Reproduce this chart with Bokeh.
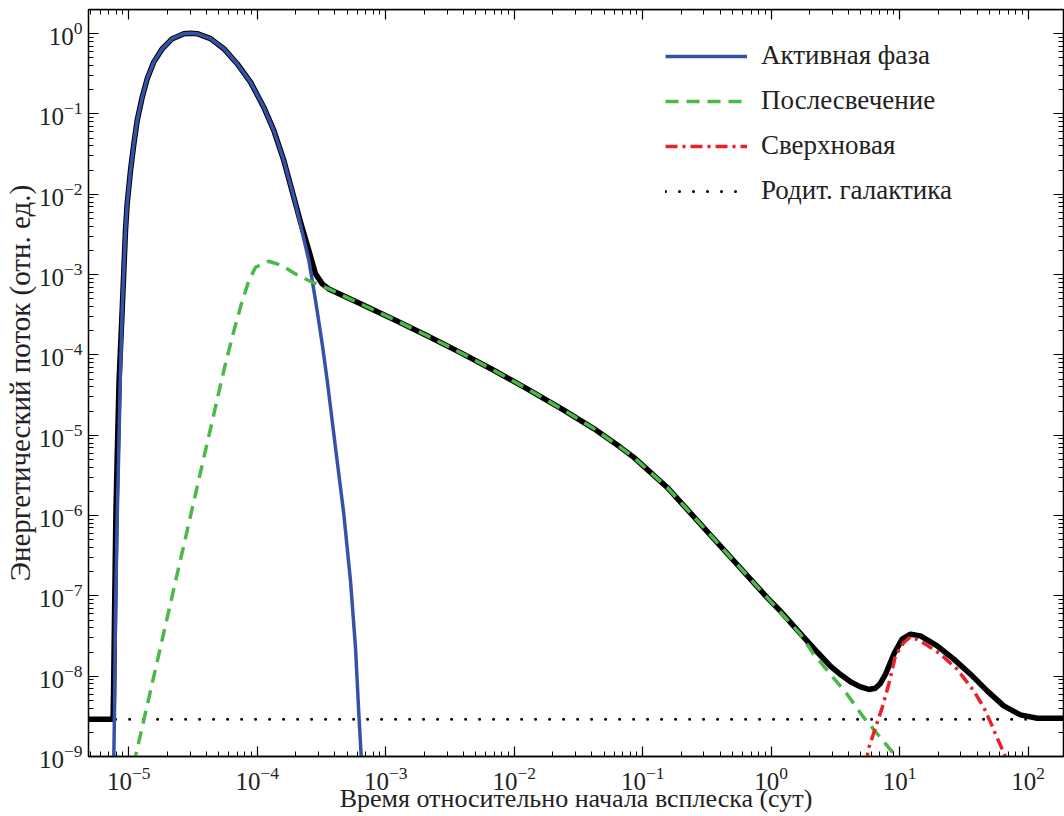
import numpy as np
from bokeh.plotting import figure
from bokeh.models import (Range1d, LogAxis, FixedTicker, Legend, LegendItem,
                          CustomJSTickFormatter)
from bokeh.embed import file_html
from bokeh.resources import INLINE

# ---------------- data (log10 of time [days], log10 of relative flux) ----------------
active_logt = [-5.117, -5.111, -5.103, -5.089, -5.077, -5.066, -5.051, -5.025, -5.012,
               -4.986, -4.960, -4.934, -4.895, -4.856, -4.805, -4.739, -4.661, -4.571,
               -4.519, -4.467, -4.363, -4.260, -4.156, -4.052, -3.949, -3.871, -3.793,
               -3.715, -3.671, -3.598, -3.546, -3.494, -3.455, -3.391, -3.326, -3.274,
               -3.235, -3.209, -3.191, -3.188]
active_logf = [-9.1, -8.474, -7.228, -5.981, -5.151, -4.320, -3.448, -2.450, -2.118,
               -1.703, -1.371, -1.080, -0.790, -0.561, -0.354, -0.187, -0.062, 0.000,
               0.005, 0.000, -0.062, -0.187, -0.374, -0.603, -0.915, -1.205, -1.579,
               -2.036, -2.327, -2.825, -3.323, -3.863, -4.320, -5.151, -5.981, -6.812,
               -7.644, -8.474, -8.990, -9.1]

afterglow_logt = [-4.962, -4.872, -4.783, -4.694, -4.623, -4.563, -4.504, -4.421, -4.361,
                  -4.299, -4.272, -4.241, -4.181, -4.123, -4.065, -4.013, -3.910, -3.805,
                  -3.702, -3.572, -3.443, -3.196, -2.937, -2.677, -2.418, -2.159, -1.899,
                  -1.640, -1.381, -1.173, -1.069, -0.809, -0.550, -0.291, -0.031, 0.124,
                  0.228, 0.331, 0.461, 0.591, 0.721, 0.850, 0.967, 0.990]
afterglow_logf = [-9.1, -8.474, -7.850, -7.228, -6.729, -6.314, -5.899, -5.317, -4.902,
                  -4.466, -4.279, -4.071, -3.697, -3.364, -3.074, -2.908, -2.834, -2.888,
                  -2.991, -3.095, -3.178, -3.364, -3.558, -3.761, -3.971, -4.191, -4.422,
                  -4.663, -4.917, -5.151, -5.276, -5.650, -6.106, -6.563, -7.021, -7.294,
                  -7.477, -7.726, -7.975, -8.224, -8.516, -8.765, -8.990, -9.1]

supernova_logt = [0.745, 0.752, 0.812, 0.864, 0.915, 0.967, 1.032, 1.084, 1.162, 1.318,
                  1.447, 1.577, 1.655, 1.720, 1.746, 1.816, 1.830]
supernova_logf = [-9.1, -8.931, -8.640, -8.391, -8.100, -7.747, -7.581, -7.510, -7.560,
                  -7.726, -7.913, -8.183, -8.391, -8.619, -8.723, -8.972, -9.1]

host_logt = [-5.32, 2.29]
host_logf = [-8.536, -8.536]

total_logt = [-5.32, -5.122, -5.118, -5.110, -5.100, -5.088, -5.075, -5.051, -5.025,
              -5.012, -4.986, -4.960, -4.934, -4.895, -4.856, -4.805, -4.739, -4.661,
              -4.571, -4.519, -4.467, -4.363, -4.260, -4.156, -4.052, -3.949, -3.871,
              -3.793, -3.715, -3.671, -3.598, -3.546, -3.494, -3.443, -3.196, -2.937,
              -2.677, -2.418, -2.159, -1.899, -1.640, -1.381, -1.173, -1.069, -0.809,
              -0.550, -0.291, -0.031, 0.072, 0.200, 0.330, 0.461, 0.540, 0.617, 0.690,
              0.760, 0.810, 0.850, 0.890, 0.954, 1.019, 1.084, 1.162, 1.292, 1.421,
              1.551, 1.681, 1.810, 1.940, 2.070, 2.29]
total_logf = [-8.536, -8.536, -8.200, -7.200, -6.000, -5.150, -4.320, -3.448, -2.450,
              -2.118, -1.703, -1.371, -1.080, -0.790, -0.561, -0.354, -0.187, -0.062,
              0.000, 0.005, 0.000, -0.062, -0.187, -0.374, -0.603, -0.915, -1.205,
              -1.579, -2.036, -2.300, -2.700, -2.991, -3.115, -3.178, -3.364, -3.558,
              -3.761, -3.971, -4.191, -4.422, -4.663, -4.917, -5.151, -5.276, -5.650,
              -6.106, -6.563, -7.021, -7.190, -7.420, -7.650, -7.875, -7.980, -8.070,
              -8.130, -8.165, -8.150, -8.090, -7.975, -7.726, -7.539, -7.477, -7.498,
              -7.622, -7.788, -7.975, -8.183, -8.370, -8.482, -8.523, -8.523]

legend_labels = ["Активная фаза", "Послесвечение", "Сверхновая", "Родит. галактика"]
x_label = "Время относительно начала всплеска (сут)"
y_label = "Энергетический поток (отн. ед.)"

x_decades = list(range(-6, 3))
y_decades = list(range(-9, 1))

x_major = [10.0 ** k for k in x_decades]
x_minor = [m * 10.0 ** k for k in x_decades for m in range(2, 10)]
y_major = [10.0 ** k for k in y_decades]
y_minor = [m * 10.0 ** k for k in range(-9, 1) for m in range(2, 10)]

X_MIN, X_MAX = 10 ** -5.313, 10 ** 2.275
Y_MIN, Y_MAX = 1e-9, 2.0


def pw(a):
    return [10.0 ** v for v in a]


FONT = "Liberation Serif"
TXT = "#222222"

p = figure(width=1064, height=816, x_axis_type="log", y_axis_type="log",
           x_range=Range1d(X_MIN, X_MAX), y_range=Range1d(Y_MIN, Y_MAX),
           output_backend="svg", toolbar_location=None,
           min_border_left=88, min_border_right=1, min_border_top=9, min_border_bottom=60)
p.grid.visible = False
p.outline_line_color = "black"
p.outline_line_width = 1.3
p.background_fill_color = "white"
p.border_fill_color = "white"

r_host = p.line(pw(host_logt), pw(host_logf), line_color="black", line_width=3,
                line_dash="0 14", line_cap="round")
r_total = p.line(pw(total_logt), pw(total_logf), line_color="black", line_width=5.5,
                 line_join="round")
r_act = p.line(pw(active_logt), pw(active_logf), line_color="#3452a8", line_width=3.5,
               line_join="round")
r_ag = p.line(pw(afterglow_logt), pw(afterglow_logf), line_color="#4cb848", line_width=3.5,
              line_dash="13 8", line_join="round")
r_sn = p.line(pw(supernova_logt), pw(supernova_logf), line_color="#e8212a", line_width=3.5,
              line_dash="12 5 3 5", line_join="round")


def style_axis(ax, show_labels):
    ax.major_tick_in = 10
    ax.major_tick_out = 0
    ax.minor_tick_in = 5
    ax.minor_tick_out = 0
    ax.axis_line_color = "black"
    ax.axis_line_width = 1.3
    ax.major_tick_line_color = "black"
    ax.minor_tick_line_color = "black"
    ax.major_tick_line_width = 1.2
    ax.minor_tick_line_width = 1.0
    ax.major_label_text_font = FONT
    ax.axis_label_text_font = FONT
    ax.axis_label_text_font_style = "normal"
    ax.major_label_text_color = TXT
    ax.axis_label_text_color = TXT
    if show_labels:
        ax.major_label_text_font_size = "25px"
    else:
        ax.formatter = CustomJSTickFormatter(code="return ' ';")
        ax.major_label_text_font_size = "1px"
        ax.major_label_standoff = 0


xa = p.xaxis[0]
xa.ticker = FixedTicker(ticks=x_major, minor_ticks=x_minor)
xa.axis_label = x_label
style_axis(xa, True)
xa.axis_label_text_font_size = "26px"
xa.major_label_standoff = 10
xa.axis_label_standoff = -9

ya = p.yaxis[0]
ya.ticker = FixedTicker(ticks=y_major, minor_ticks=y_minor)
ya.axis_label = y_label
style_axis(ya, True)
ya.axis_label_text_font_size = "29px"
ya.major_label_standoff = 6
ya.axis_label_standoff = 0

top = LogAxis(ticker=FixedTicker(ticks=x_major, minor_ticks=x_minor), fixed_location=Y_MAX)
style_axis(top, False)
p.add_layout(top, "above")
right = LogAxis(ticker=FixedTicker(ticks=y_major, minor_ticks=y_minor), fixed_location=X_MAX)
style_axis(right, False)
p.add_layout(right, "right")

legend = Legend(items=[LegendItem(label=legend_labels[0], renderers=[r_act]),
                       LegendItem(label=legend_labels[1], renderers=[r_ag]),
                       LegendItem(label=legend_labels[2], renderers=[r_sn]),
                       LegendItem(label=legend_labels[3], renderers=[r_host])],
                location=(577, 550), glyph_width=82, glyph_height=30, label_height=30,
                spacing=14, padding=0, margin=0, label_standoff=14,
                label_text_font=FONT, label_text_font_size="27px",
                label_text_color=TXT,
                border_line_alpha=0, background_fill_alpha=0)
p.add_layout(legend)

open("out.html", "w").write(file_html(p, INLINE))
